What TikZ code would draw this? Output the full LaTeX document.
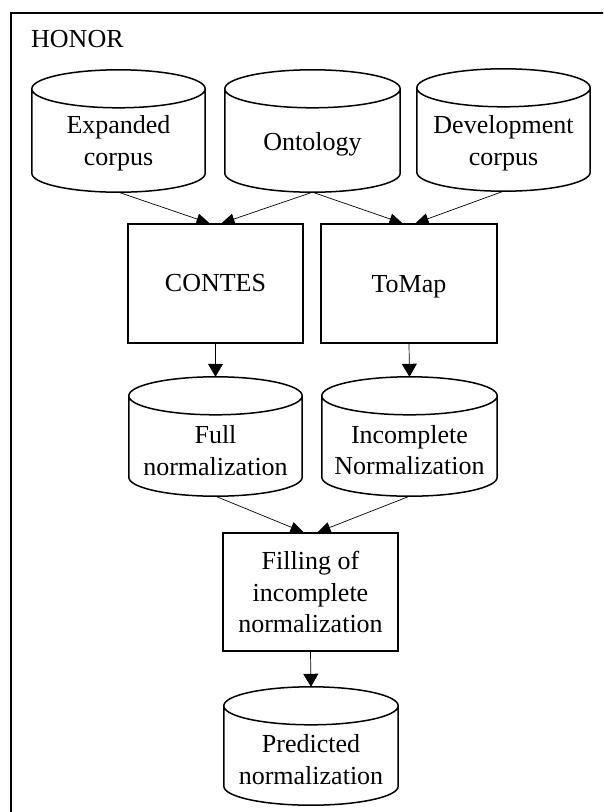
\documentclass[tikz,border=0pt]{standalone}
\usepackage{fontspec}
\setmainfont{Liberation Serif}
\usetikzlibrary{arrows.meta,calc}
\newcommand\mycyl[1]{%
  \draw[cylline] let \p1=(#1.north west), \p2=(#1.south east), \n1={(\x2-\x1)/2} in
    (\x1,\y1-19pt) arc[start angle=180, end angle=-180, x radius=\n1, y radius=19pt]
    (\x1,\y1-19pt) -- (\x1,\y2+19pt) arc[start angle=180, end angle=360, x radius=\n1, y radius=19pt] -- (\x2,\y1-19pt);}
\begin{document}
\begin{tikzpicture}[x=1pt,y=1pt,
  txt/.style={font=\fontsize{26}{31.5}\selectfont},
  procbox/.style={txt, draw, line width=1.5pt, inner sep=0pt, align=center},
  cylnode/.style={draw=none, inner sep=0pt},
  cylline/.style={line width=1.5pt},
  lbl/.style={txt, inner sep=0pt, align=center},
  flow/.style={line width=0.7pt, -{Triangle[length=13pt,width=11pt]}},
  vflow/.style={line width=0.7pt, -{Triangle[length=13pt,width=15pt]}}]
\useasboundingbox (0,0) rectangle (603,-812);
\clip (0,0) rectangle (603,-812);
\draw[line width=2pt] (11.3,-900) -- (11.3,-13.3) -- (700,-13.3);
\node[txt, anchor=base west, inner sep=0pt] (title) at (31,-47) {HONOR};

% top cylinders
\node[cylnode, minimum width=173pt, minimum height=122pt] (exp) at (118.5,-131) {};
\node[cylnode, minimum width=175pt, minimum height=122pt] (ont) at (312.5,-131) {};
\node[cylnode, minimum width=173pt, minimum height=122pt] (dev) at (503.5,-130) {};
\mycyl{exp}\mycyl{ont}\mycyl{dev}
\node[lbl] (expT) at (118.5,-143) {Expanded\\corpus};
\node[lbl] (ontT) at (312.5,-144) {Ontology};
\node[lbl] (devT) at (503.5,-143) {Development\\corpus};

% processes
\node[procbox, minimum width=175pt, minimum height=119pt] (contes) at (215.5,-283.5) {CONTES};
\node[procbox, minimum width=176pt, minimum height=119pt, text height=17pt, text depth=0pt] (tomap) at (409,-283.5) {ToMap};

% middle cylinders
\node[cylnode, minimum width=173pt, minimum height=119pt] (full) at (215.5,-436.5) {};
\node[cylnode, minimum width=175pt, minimum height=119pt] (inc) at (409.5,-436.5) {};
\mycyl{full}\mycyl{inc}
\node[lbl] (fullT) at (215.5,-450.5) {Full\\normalization};
\node[lbl] (incT) at (409.5,-450) {Incomplete\\Normalization};

% filling
\node[procbox, minimum width=175pt, minimum height=118pt] (fill) at (310.5,-592) {Filling of\\incomplete\\normalization};

% predicted
\node[cylnode, minimum width=174pt, minimum height=118pt] (pred) at (311,-746) {};
\mycyl{pred}
\node[lbl] (predT) at (311,-759.5) {Predicted\\normalization};

% connectors
\draw[flow] (exp.south) -- ([xshift=-6pt]contes.north);
\draw[flow] (ont.south) -- ([xshift=6pt]contes.north);
\draw[flow] (ont.south) -- ([xshift=-6.5pt]tomap.north);
\draw[flow] (dev.south) -- ([xshift=6.5pt]tomap.north);
\draw[vflow] (contes.south) -- (full.north);
\draw[vflow] (tomap.south) -- (inc.north);
\draw[flow] (full.south) -- ([xshift=-7pt]fill.north);
\draw[flow] (inc.south) -- ([xshift=7pt]fill.north);
\draw[vflow] (fill.south) -- (pred.north);
\end{tikzpicture}
\end{document}
